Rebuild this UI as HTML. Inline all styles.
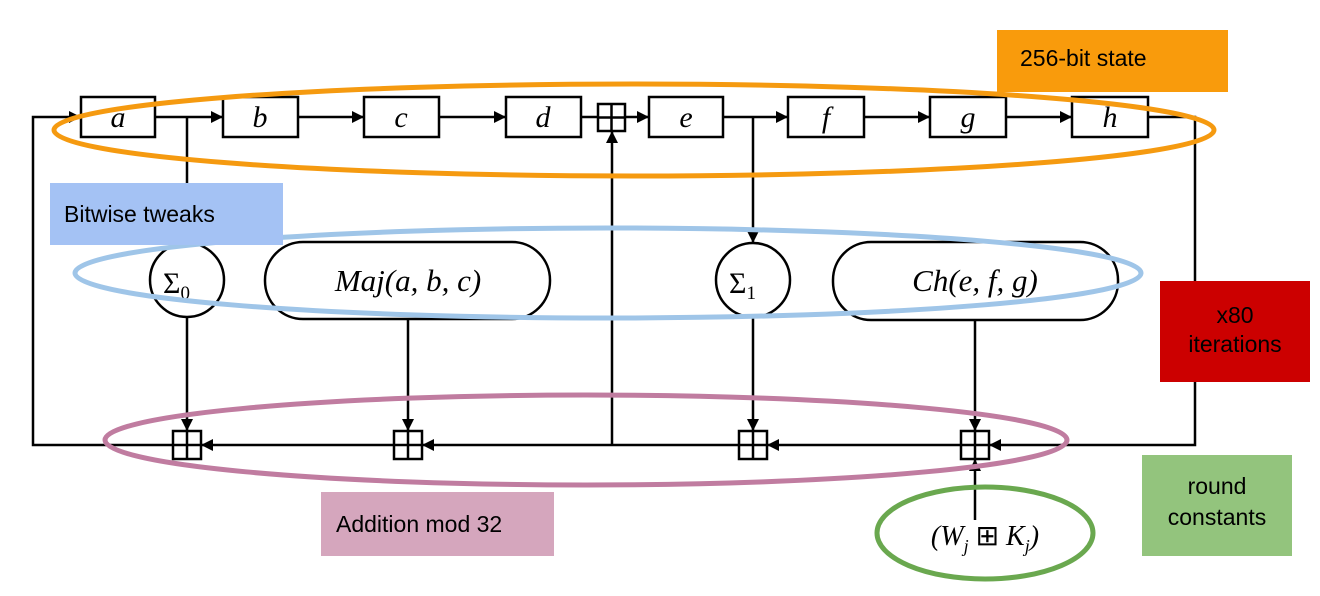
<!DOCTYPE html>
<html><head><meta charset="utf-8"><style>
html,body{margin:0;padding:0;background:#fff}
svg{display:block}
.m{font-family:"Liberation Serif",serif;font-style:italic;font-size:30px}
.s{font-family:"Liberation Sans",sans-serif;font-size:23px}
</style></head><body>
<svg width="1320" height="596" viewBox="0 0 1320 596" xmlns="http://www.w3.org/2000/svg">
<defs>
<marker id="ar2" viewBox="0 0 10 10" refX="10" refY="5" markerWidth="14" markerHeight="12" orient="auto" markerUnits="userSpaceOnUse"><path d="M0,0 L10,5 L0,10 z" fill="#000"/></marker></defs>
<g stroke="#000" stroke-width="2.5" fill="none">
<rect x="81" y="97" width="74" height="40" fill="#fff"/>
<rect x="223" y="97" width="75" height="40" fill="#fff"/>
<rect x="364" y="97" width="75" height="40" fill="#fff"/>
<rect x="506" y="97" width="75" height="40" fill="#fff"/>
<rect x="649" y="97" width="74" height="40" fill="#fff"/>
<rect x="788" y="97" width="76" height="40" fill="#fff"/>
<rect x="930" y="97" width="76" height="40" fill="#fff"/>
<rect x="1072" y="97" width="76" height="40" fill="#fff"/>
<line x1="155" y1="117" x2="223" y2="117" marker-end="url(#ar2)"/>
<line x1="298" y1="117" x2="364" y2="117" marker-end="url(#ar2)"/>
<line x1="439" y1="117" x2="506" y2="117" marker-end="url(#ar2)"/>
<line x1="581" y1="117" x2="598" y2="117"/>
<line x1="625" y1="117" x2="649" y2="117" marker-end="url(#ar2)"/>
<line x1="723" y1="117" x2="788" y2="117" marker-end="url(#ar2)"/>
<line x1="864" y1="117" x2="930" y2="117" marker-end="url(#ar2)"/>
<line x1="1006" y1="117" x2="1072" y2="117" marker-end="url(#ar2)"/>
<rect x="598" y="104" width="27" height="27" fill="#fff"/>
<line x1="611.5" y1="104" x2="611.5" y2="131"/><line x1="598" y1="117.5" x2="625" y2="117.5"/>
<polyline points="1148,117 1195,117 1195,445 1000,445"/>
<line x1="1000" y1="445" x2="989" y2="445" marker-end="url(#ar2)"/>
<line x1="961" y1="445" x2="767" y2="445" marker-end="url(#ar2)"/>
<line x1="739" y1="445" x2="422" y2="445" marker-end="url(#ar2)"/>
<line x1="394" y1="445" x2="201" y2="445" marker-end="url(#ar2)"/>
<polyline points="173,445 33,445 33,117 81,117" marker-end="url(#ar2)"/>
<line x1="612" y1="445" x2="612" y2="131" marker-end="url(#ar2)"/>
<line x1="187" y1="117" x2="187" y2="243"/>
<line x1="187" y1="317" x2="187" y2="431" marker-end="url(#ar2)"/>
<line x1="408" y1="319" x2="408" y2="431" marker-end="url(#ar2)"/>
<line x1="753" y1="117" x2="753" y2="243" marker-end="url(#ar2)"/>
<line x1="753" y1="317" x2="753" y2="431" marker-end="url(#ar2)"/>
<line x1="975" y1="320" x2="975" y2="431" marker-end="url(#ar2)"/>
<line x1="975" y1="520" x2="975" y2="459" marker-end="url(#ar2)"/>
<ellipse cx="187" cy="280" rx="37" ry="37" fill="#fff"/>
<ellipse cx="753" cy="280" rx="37" ry="37" fill="#fff"/>
<rect x="265" y="242" width="285" height="77" rx="38" fill="#fff"/>
<rect x="833" y="242" width="285" height="78" rx="38" fill="#fff"/>
<g fill="#fff">
<rect x="173" y="431" width="28" height="28"/><rect x="394" y="431" width="28" height="28"/>
<rect x="739" y="431" width="28" height="28"/><rect x="961" y="431" width="28" height="28"/></g>
<line x1="187" y1="431" x2="187" y2="459"/><line x1="173" y1="445" x2="201" y2="445"/>
<line x1="408" y1="431" x2="408" y2="459"/><line x1="394" y1="445" x2="422" y2="445"/>
<line x1="753" y1="431" x2="753" y2="459"/><line x1="739" y1="445" x2="767" y2="445"/>
<line x1="975" y1="431" x2="975" y2="459"/><line x1="961" y1="445" x2="989" y2="445"/>
</g>
<g class="m" text-anchor="middle">
<text x="118" y="127">a</text><text x="260" y="127">b</text><text x="401" y="127">c</text>
<text x="543" y="127">d</text><text x="686" y="127">e</text><text x="826" y="127">f</text>
<text x="968" y="127">g</text><text x="1110" y="127">h</text>
<text x="408" y="291" style="font-size:31px">Maj(a, b, c)</text>
<text x="975" y="291" style="font-size:31px">Ch(e, f, g)</text>
<text x="985" y="545" style="font-size:28px">(W<tspan font-size="18" dy="7">j</tspan><tspan dy="-7" font-style="normal"> ⊞ </tspan>K<tspan font-size="18" dy="7">j</tspan><tspan dy="-7">)</tspan></text>
</g>
<g font-family="Liberation Serif,serif" font-size="30">
<text x="163" y="293">Σ<tspan font-size="19" dy="6">0</tspan></text>
<text x="729" y="293">Σ<tspan font-size="19" dy="6">1</tspan></text>
</g>
<ellipse cx="634" cy="130" rx="580" ry="46" fill="none" stroke="#f59a10" stroke-width="5"/>
<ellipse cx="608" cy="273" rx="533" ry="45" fill="none" stroke="#9fc5e8" stroke-width="5"/>
<ellipse cx="586" cy="440" rx="481" ry="45" fill="none" stroke="#c07ca0" stroke-width="5"/>
<ellipse cx="985" cy="533" rx="108" ry="46" fill="none" stroke="#6aa84f" stroke-width="5"/>
<rect x="997" y="30" width="231" height="62" fill="#f99b0c"/>
<text class="s" x="1020" y="66">256-bit state</text>
<rect x="50" y="183" width="233" height="62" fill="#a4c2f4"/>
<text class="s" x="64" y="222">Bitwise tweaks</text>
<rect x="1160" y="281" width="150" height="101" fill="#cc0000"/>
<text class="s" x="1235" y="323" text-anchor="middle">x80</text>
<text class="s" x="1235" y="352" text-anchor="middle">iterations</text>
<rect x="321" y="492" width="233" height="64" fill="#d5a6bd"/>
<text class="s" x="336" y="532">Addition mod 32</text>
<rect x="1142" y="455" width="150" height="101" fill="#93c47d"/>
<text class="s" x="1217" y="494" text-anchor="middle">round</text>
<text class="s" x="1217" y="525" text-anchor="middle">constants</text>
</svg>
</body></html>
